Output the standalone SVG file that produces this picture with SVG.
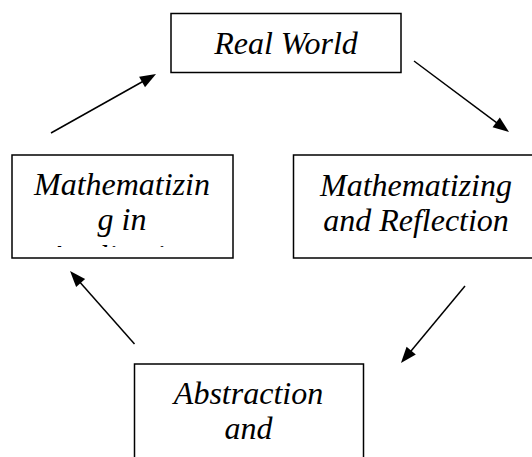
<svg xmlns="http://www.w3.org/2000/svg" width="532" height="457" viewBox="0 0 532 457">
  <style>
    .box { fill: #ffffff; stroke: #000000; stroke-width: 1.5; }
    .lbl { font-family: 'Liberation Serif', 'Times New Roman', Times, 'DejaVu Serif', serif; font-style: italic; font-size: 32px; fill: #000000; text-anchor: middle; }
    .conn { stroke: #000000; stroke-width: 1.5; fill: none; marker-end: url(#arrow); }
  </style>
  <defs>
    <marker id="arrow" markerUnits="userSpaceOnUse" markerWidth="18" markerHeight="14" refX="10" refY="6" orient="auto" overflow="visible">
      <path d="M0,0 L16,6 L0,12 z" fill="#000000"/>
    </marker>
    <clipPath id="clipLeft">
      <rect x="12" y="155" width="221" height="92"/>
    </clipPath>
  </defs>
  <rect width="532" height="457" fill="#ffffff"/>

  <g id="real-world">
    <rect class="box" x="171" y="13.5" width="230" height="59"/>
    <text class="lbl" x="286" y="53.5">Real World</text>
  </g>

  <g id="mathematizing-reflection">
    <rect class="box" x="293.5" y="155" width="245" height="103"/>
    <text class="lbl" x="416" y="195.5">Mathematizing</text>
    <text class="lbl" x="416" y="231">and Reflection</text>
  </g>

  <g id="abstraction">
    <rect class="box" x="134.5" y="364" width="229" height="110"/>
    <text class="lbl" x="248.5" y="404">Abstraction</text>
    <text class="lbl" x="248.5" y="439">and</text>
  </g>

  <g id="mathematizing-application">
    <rect class="box" x="12" y="155" width="221" height="103"/>
    <text class="lbl" x="122" y="195">Mathematizin</text>
    <text class="lbl" x="122" y="230">g in</text>
    <g clip-path="url(#clipLeft)">
      <text class="lbl" x="122" y="267">Application</text>
    </g>
  </g>

  <g id="connectors">
    <line class="conn" x1="51" y1="133" x2="150.8" y2="77"/>
    <line class="conn" x1="414" y1="61" x2="504.2" y2="128.4"/>
    <line class="conn" x1="465" y1="286" x2="404.8" y2="358.4"/>
    <line class="conn" x1="134.5" y1="344" x2="74" y2="275.5"/>
  </g>
</svg>
